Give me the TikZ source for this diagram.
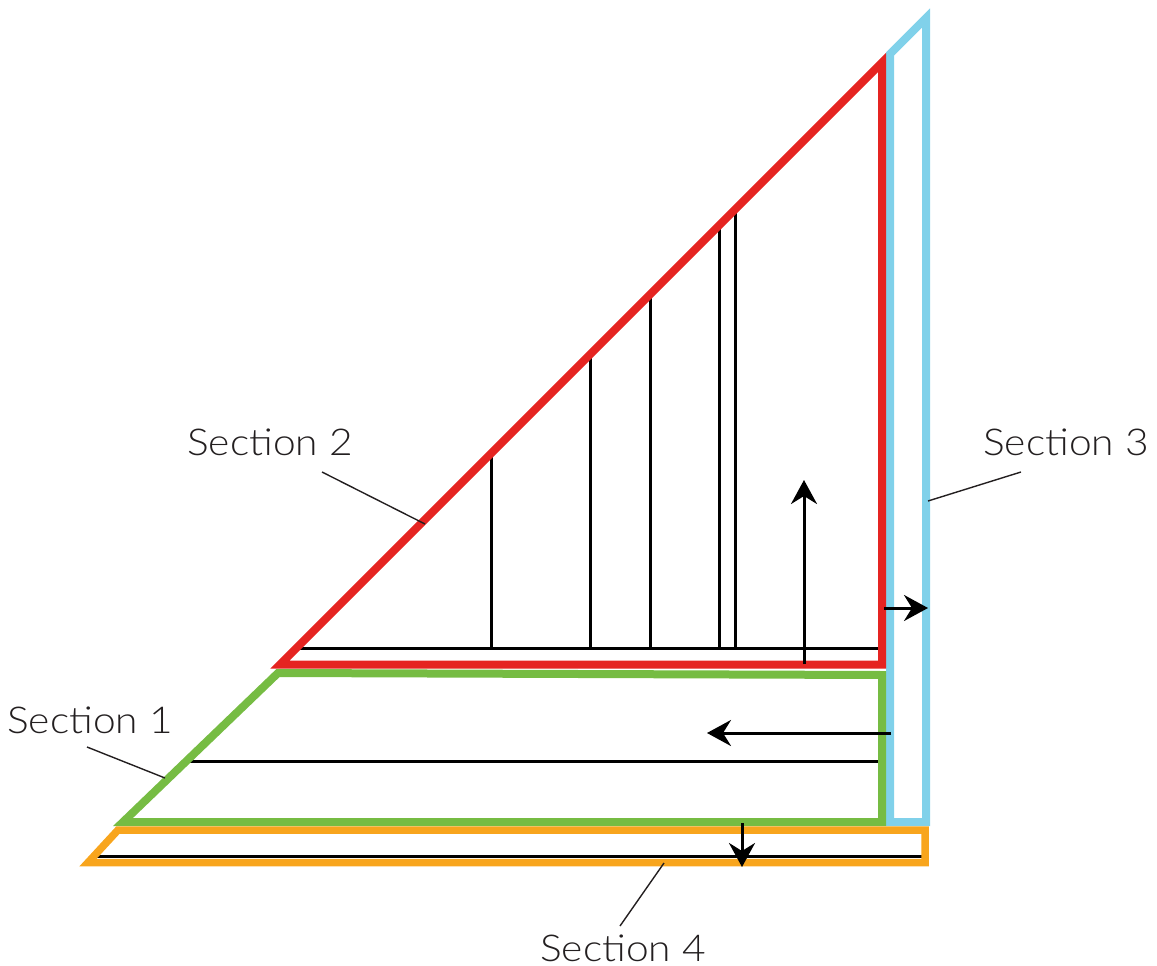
\documentclass[tikz,border=0pt]{standalone}
\usepackage{fontspec}
\IfFontExistsTF{Lato Light}{\setmainfont{Lato Light}[FakeStretch=1.1]}{\setmainfont{Lato}[FakeStretch=1.1]}
\usetikzlibrary{arrows.meta}
\definecolor{secred}{HTML}{E52421}
\definecolor{secgreen}{HTML}{76BC43}
\definecolor{secblue}{HTML}{80D1EA}
\definecolor{secorange}{HTML}{F8A51D}
\definecolor{ink}{HTML}{231F20}
\tikzset{
  band/.style={line width=8pt, line join=miter, miter limit=10},
  inner/.style={line width=3pt, black},
  leader/.style={line width=1.4pt, ink},
  flow/.style={line width=3pt, black, -{Stealth[length=24pt,width=26pt,inset=8pt]}},
  lbl/.style={text=ink, font=\fontsize{37}{40}\selectfont, inner sep=0pt, anchor=base}
}
\begin{document}
\begin{tikzpicture}[x=1pt,y=-1pt]
\useasboundingbox (0,0) rectangle (1157,966);
% inner black lines
\draw[inner] (296,648) -- (882,648);
\foreach \x in {491,590,650,719,735} { \draw[inner] (\x,648) -- (\x,944.5-\x); }
\draw[inner] (186,761) -- (882,761);
\draw[inner] (94,856) -- (925,856);
% bands
\draw[band, secblue] (890,822) -- (890,54) -- (926,18) -- (926,822) -- cycle;
\draw[band, secred] (280,664.5) -- (882,62.5) -- (882,664.5) -- cycle;
\draw[band, secgreen] (123,822) -- (278,673) -- (882,675) -- (882,822) -- cycle;
\draw[band, secorange, line width=7.5pt] (88,862.5) -- (118,830) -- (925,830) -- (925,862.5) -- cycle;
% arrows
\coordinate (upA) at (804,664); \coordinate (upB) at (804,480);
\coordinate (rtA) at (884,608); \coordinate (rtB) at (928,608);
\coordinate (lfA) at (891,733); \coordinate (lfB) at (707,733);
\coordinate (dnA) at (742,823); \coordinate (dnB) at (742,867);
\draw[flow] (upA) -- (upB);
\draw[flow] (rtA) -- (rtB);
\draw[flow] (lfA) -- (lfB);
\draw[flow] (dnA) -- (dnB);
% labels
\node[lbl] (s2) at (270,455) {Section 2};
\node[lbl] (s3) at (1066,455) {Section 3};
\node[lbl] (s1) at (90,733) {Section 1};
\node[lbl] (s4) at (623,961) {Section 4};
\coordinate (p2) at (425,524);
\coordinate (p3) at (928,501);
\coordinate (p1) at (165,778);
\coordinate (p4) at (664,863);
\draw[leader] (322,472) -- (p2);
\draw[leader] (1021,472) -- (p3);
\draw[leader] (87,747) -- (p1);
\draw[leader] (620,926) -- (p4);
\end{tikzpicture}
\end{document}
